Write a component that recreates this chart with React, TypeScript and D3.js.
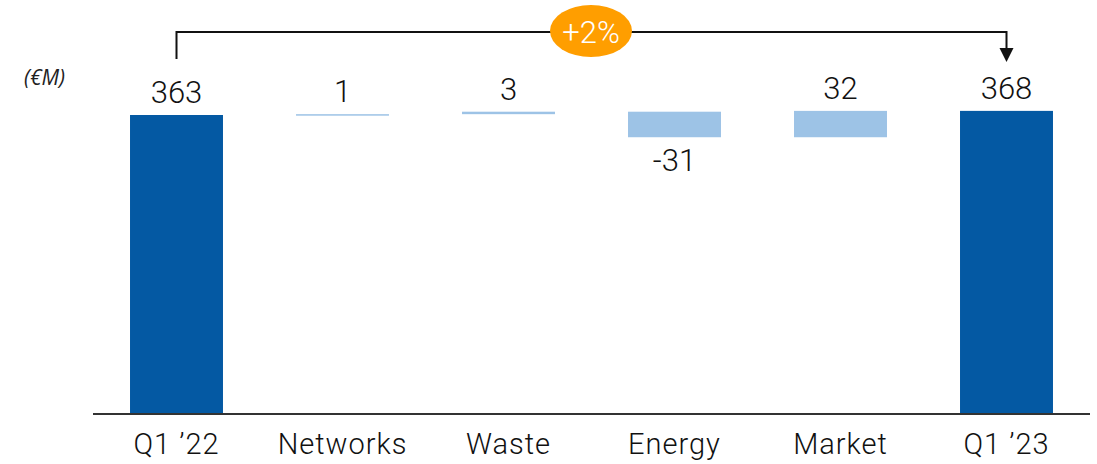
import React from "react";
import * as d3 from "d3";

const categories = ["Q1 \u201922", "Networks", "Waste", "Energy", "Market", "Q1 \u201923"];
const deltas = [363, 1, 3, -31, 32, 368];
const kinds = ["total", "delta", "delta", "delta", "delta", "total"];
const valueLabels = ["363", "1", "3", "-31", "32", "368"];
const growthLabel = "+2%";
const unitLabel = "(\u20acM)";

const W = 1097;
const H = 464;

export default function App() {
  const x = d3.scaleBand<string>().domain(categories).range([93.5, 1089.5]).paddingInner(0.44).paddingOuter(0.22);
  const y = d3.scaleLinear().domain([0, 363]).range([414, 115]);

  let running = 0;
  const bars = categories.map((c, i) => {
    let y0: number, y1: number;
    if (kinds[i] === "total") {
      y0 = 0;
      y1 = deltas[i];
      running = deltas[i];
    } else {
      y0 = running;
      y1 = running + deltas[i];
      running = y1;
    }
    return { c, y0, y1, i };
  });

  const darkBlue = "#0459A3";
  const lightBlue = "#9DC3E6";
  const orange = "#FF9E00";
  const font = "Roboto, sans-serif";

  const first = bars[0];
  const last = bars[bars.length - 1];
  const x1 = (x(first.c) as number) + x.bandwidth() / 2;
  const x2 = (x(last.c) as number) + x.bandwidth() / 2;
  const bracketY = 32;

  return (
    <svg width={W} height={H} style={{ position: "absolute", left: 0, top: 0 }}>
      <text x={24} y={85} fontFamily="'Open Sans', sans-serif" fontStyle="italic" fontSize={21} fill="#222">{unitLabel}</text>
      {bars.map((b) => {
        const top = y(Math.max(b.y0, b.y1));
        const bot = y(Math.min(b.y0, b.y1));
        const h = Math.max(bot - top, 1.5);
        const cx = (x(b.c) as number) + x.bandwidth() / 2;
        const neg = b.y1 < b.y0;
        return (
          <g key={b.c}>
            <rect x={x(b.c)} y={top} width={x.bandwidth()} height={h}
              fill={kinds[b.i] === "total" ? darkBlue : lightBlue} />
            <text x={cx} y={neg ? bot + 34 : top - 12} textAnchor="middle" fontFamily={font}
              fontWeight={300} fontSize={31} fill="#111">{valueLabels[b.i]}</text>
            <text x={cx} y={454} textAnchor="middle" fontFamily={font} fontWeight={300}
              fontSize={29} letterSpacing={1} fill="#111">{b.c}</text>
          </g>
        );
      })}
      <line x1={93} x2={1090} y1={414} y2={414} stroke="#333" strokeWidth={2} />
      <path d={`M${x1},59 V${bracketY} H${x2} V50`} fill="none" stroke="#111" strokeWidth={2} />
      <path d={`M${x2 - 7},48 L${x2 + 7},48 L${x2},62 Z`} fill="#111" />
      <ellipse cx={591} cy={31} rx={41} ry={26} fill={orange} />
      <text x={591} y={43} textAnchor="middle" fontFamily={font} fontWeight={300} fontSize={31} fill="#fff">{growthLabel}</text>
    </svg>
  );
}
